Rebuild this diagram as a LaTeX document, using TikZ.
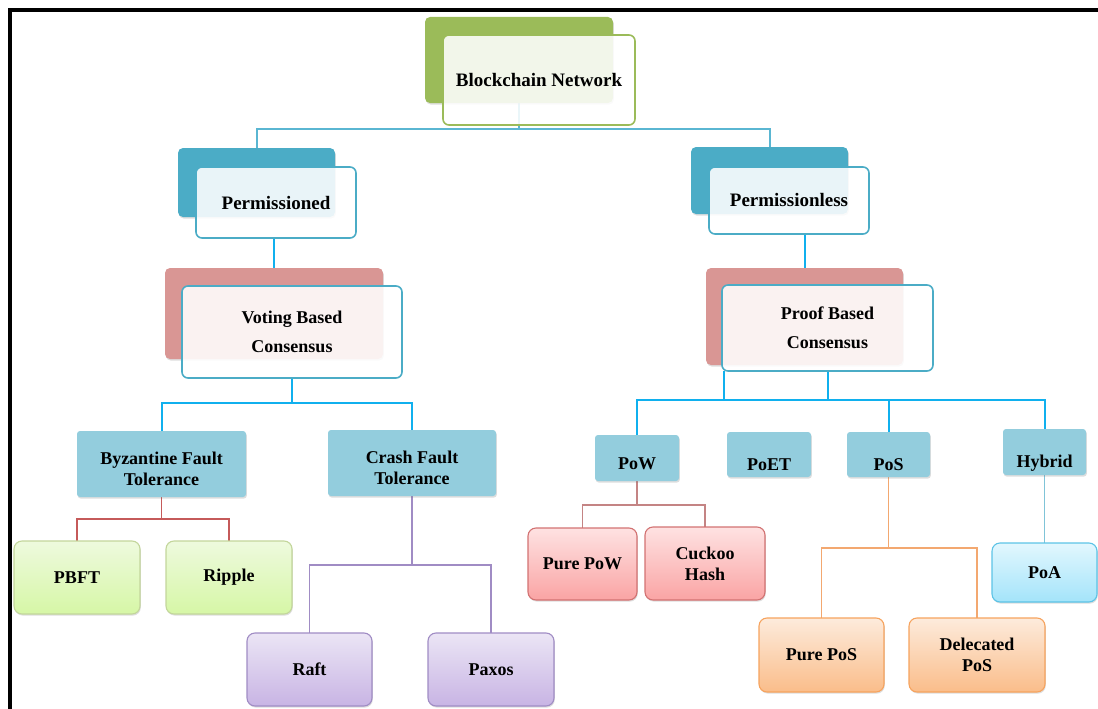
\documentclass[tikz,border=0pt]{standalone}
\usepackage{fontspec}
\setmainfont{Liberation Serif}
\usetikzlibrary{shadows,backgrounds}

\definecolor{greenback}{HTML}{9BBB59}
\definecolor{tealback}{HTML}{4BACC6}
\definecolor{roseback}{HTML}{D99694}
\definecolor{flatblue}{HTML}{93CDDD}
\definecolor{topline}{HTML}{5AB6D2}
\definecolor{cyanline}{HTML}{10B0EE}
\definecolor{redline}{HTML}{C55A5A}
\definecolor{powline}{HTML}{C48484}
\definecolor{purpleline}{HTML}{A08CC4}
\definecolor{orangeline}{HTML}{F3A870}
\definecolor{poaline}{HTML}{80C4D8}
% leaf fills and borders
\definecolor{greenedge}{HTML}{C3D69B}
\definecolor{greentop}{HTML}{EEFADE}
\definecolor{greenbot}{HTML}{D6F7A6}
\definecolor{violetedge}{HTML}{A08CC4}
\definecolor{violettop}{HTML}{EBE5F5}
\definecolor{violetbot}{HTML}{C8B4E4}
\definecolor{pinkedge}{HTML}{D27272}
\definecolor{pinktop}{HTML}{FEE2E2}
\definecolor{pinkbot}{HTML}{FAA4A4}
\definecolor{peachedge}{HTML}{F6A35E}
\definecolor{peachtop}{HTML}{FDEBDC}
\definecolor{peachbot}{HTML}{FABD8A}
\definecolor{skyedge}{HTML}{5CC3E6}
\definecolor{skytop}{HTML}{E2F7FE}
\definecolor{skybot}{HTML}{A4E4FA}

% two centred lines whose visual middle sits #1 below the node centre
\newcommand\twolines[3]{\raisebox{0pt}[\dimexpr34pt+2\dimexpr#1\relax\relax][0pt]{%
  \begin{tabular}[b]{@{}c@{}}#2\\#3\end{tabular}}}

\tikzset{
  box/.style={rectangle, outer sep=0pt, inner sep=3pt, align=center,
    font=\bfseries\fontsize{18}{21}\selectfont, text=black},
  softshadow/.style={drop shadow={shadow xshift=0.8pt, shadow yshift=-1.6pt,
    opacity=0.22, fill=black!60}},
  backbox/.style={box, rounded corners=5pt, fill=#1, softshadow},
  frontbox/.style={box, rounded corners=6pt, draw=#1, line width=1.6pt,
    fill=white, fill opacity=0.88, text opacity=1},
  flatbox/.style={box, rounded corners=3pt, fill=flatblue, softshadow},
  leafbox/.style={box, rounded corners=8pt, draw=#1edge, line width=1.1pt,
    top color=#1top, bottom color=#1bot, softshadow},
  textdown/.style={text height=13pt+2*#1, text depth=0pt},
  wire/.style={line width=#1},
}

\begin{document}
\begin{tikzpicture}[x=1pt,y=-1pt]
\useasboundingbox (0,0) rectangle (1098,709);

% frame
\draw[line width=4pt] (1098,10.3) -- (10,10.3) -- (10,709);

% ---- upper levels: shaded back plate with a translucent card in front
\node[backbox=greenback, minimum width=188pt, minimum height=86pt] (bnB) at (519,60) {};
\node[frontbox=greenback, minimum width=192pt, minimum height=90pt,
      font=\bfseries\fontsize{19}{22}\selectfont] (bn) at (539,80) {Blockchain Network};

\node[backbox=tealback, minimum width=157pt, minimum height=69pt] (pmB) at (256.5,182.5) {};
\node[frontbox=tealback, minimum width=160pt, minimum height=71pt,
      font=\bfseries\fontsize{19}{22}\selectfont] (pm) at (276,202.5) {Permissioned};

\node[backbox=tealback, minimum width=157pt, minimum height=67pt] (plB) at (769.5,180.5) {};
\node[frontbox=tealback, minimum width=160pt, minimum height=67pt,
      font=\bfseries\fontsize{19}{22}\selectfont] (pl) at (789,200.5) {Permissionless};

\node[backbox=roseback, minimum width=218pt, minimum height=91pt] (vtB) at (274,313.5) {};
\node[frontbox=tealback, minimum width=220pt, minimum height=92pt,
      font=\bfseries\fontsize{18}{29}\selectfont] (vt) at (292,332) {Voting Based\\Consensus};

\node[backbox=roseback, minimum width=197pt, minimum height=97pt] (prB) at (804.5,316.5) {};
\node[frontbox=tealback, minimum width=211pt, minimum height=86pt,
      font=\bfseries\fontsize{18}{29}\selectfont] (pr) at (827.5,328) {Proof Based\\Consensus};

% ---- consensus families
\node[flatbox, minimum width=169pt, minimum height=66pt] (bft) at (161.5,464) {\twolines{4.5pt}{Byzantine Fault}{Tolerance}};
\node[flatbox, minimum width=168pt, minimum height=66pt] (cft) at (412,463) {\twolines{4.5pt}{Crash Fault}{Tolerance}};

\node[flatbox, minimum width=84pt, minimum height=46pt, textdown=5pt] (pow) at (637,458) {PoW};
\node[flatbox, minimum width=84pt, minimum height=45pt, textdown=9pt] (poet) at (769,454.5) {PoET};
\node[flatbox, minimum width=83pt, minimum height=45pt, textdown=9pt] (pos) at (888.5,454.5) {PoS};
\node[flatbox, minimum width=83pt, minimum height=46pt, textdown=9pt] (hyb) at (1044.5,452) {Hybrid};

% ---- protocols
\node[leafbox=green, minimum width=126pt, minimum height=73pt] (pbft) at (77,577.5) {PBFT};
\node[leafbox=green, minimum width=126pt, minimum height=73pt] (rip) at (229,577.5) {Ripple};

\node[leafbox=violet, minimum width=125pt, minimum height=73pt] (raft) at (309.5,669.5) {Raft};
\node[leafbox=violet, minimum width=126pt, minimum height=73pt] (pax) at (491,669.5) {Paxos};

\node[leafbox=pink, minimum width=109pt, minimum height=72pt] (ppow) at (582.5,564) {Pure PoW};
\node[leafbox=pink, minimum width=120pt, minimum height=73pt] (cuck) at (705,563.5) {Cuckoo\\Hash};

\node[leafbox=peach, minimum width=125pt, minimum height=74pt] (ppos) at (821.5,655) {Pure PoS};
\node[leafbox=peach, minimum width=136pt, minimum height=74pt] (dpos) at (977,655) {Delecated\\PoS};

\node[leafbox=sky, minimum width=105pt, minimum height=59pt] (poa) at (1044.5,572.5) {PoA};

% ---- connectors
\coordinate (topbar) at (519,129);
\coordinate (vtbar)  at (292,403);
\coordinate (prbar)  at (827.5,400);
\coordinate (bftbar) at (161.5,519);
\coordinate (cftbar) at (412,565);
\coordinate (powbar) at (637,505);
\coordinate (posbar) at (888.5,548);

\begin{scope}[on background layer]
  \draw[topline, wire=2pt] (bnB.south) -- (topbar) -| (pmB.north);
  \draw[topline, wire=2pt] (topbar) -| (plB.north);

  \draw[cyanline, wire=2pt] (vtB.north) -- (vtB.north |- pm.south);
  \draw[cyanline, wire=2pt] (prB.north) -- (prB.north |- pl.south);

  \draw[cyanline, wire=2pt] (vt.south) -- (vtbar) -| (bft.north);
  \draw[cyanline, wire=2pt] (vtbar) -| (cft.north);

  \draw[cyanline, wire=2pt] ([xshift=2pt]pr.south west) |- (prbar) -- (pr.south);
  \draw[cyanline, wire=2pt] (pow.north) |- (prbar);
  \draw[cyanline, wire=2pt] (prbar) -| (hyb.north);
  \draw[cyanline, wire=2pt] (pos.north) -- (pos.north |- prbar);

  \draw[redline, wire=1.5pt] (bft.south) -- (bftbar) -| (pbft.north);
  \draw[redline, wire=1.5pt] (bftbar) -| (rip.north);

  \draw[purpleline, wire=1.5pt] (cft.south) -- (cftbar) -| (raft.north);
  \draw[purpleline, wire=1.5pt] (cftbar) -| (pax.north);

  \draw[powline, wire=1.5pt] (pow.south) -- (powbar) -| (ppow.north);
  \draw[powline, wire=1.5pt] (powbar) -| (cuck.north);

  \draw[orangeline, wire=1.5pt] (pos.south) -- (posbar) -| (ppos.north);
  \draw[orangeline, wire=1.5pt] (posbar) -| (dpos.north);

  \draw[poaline, wire=1.5pt] (hyb.south) -- (poa.north);
\end{scope}
\end{tikzpicture}
\end{document}
